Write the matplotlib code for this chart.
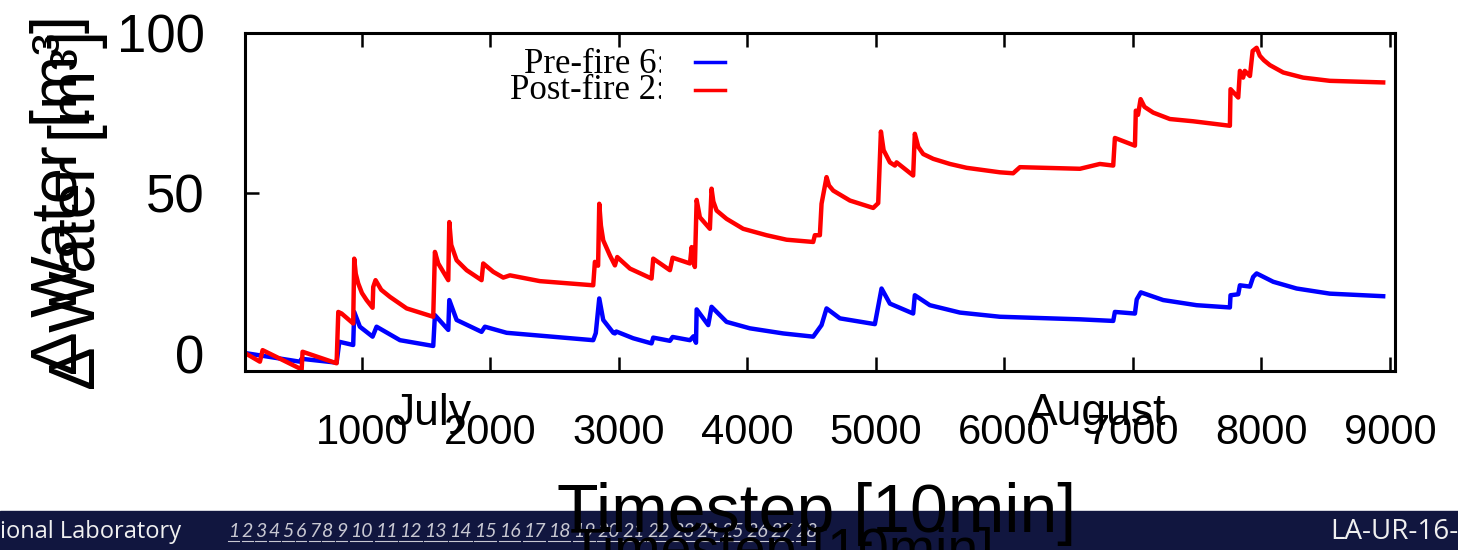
import matplotlib
matplotlib.use("Agg")
import matplotlib.pyplot as plt
from matplotlib.patches import Rectangle
from matplotlib.transforms import Bbox, blended_transform_factory

# post-fire (red) series, timestep vs delta water
post_x = [90, 206, 227, 531, 538, 803, 816, 842, 932, 940, 952, 971, 1000, 1036, 1083, 1088,
          1106, 1150, 1218, 1348, 1555, 1568, 1594, 1672, 1680, 1695, 1737, 1815, 1931, 1944,
          2022, 2100, 2152, 2385, 2800, 2813, 2838, 2847, 2860, 2878, 2930, 2969, 2987,
          3086, 3254, 3267, 3397, 3418, 3553, 3566, 3591, 3605, 3630, 3708, 3721,
          3735, 3760, 3838, 3967, 4149, 4305, 4512, 4525, 4564, 4577, 4616, 4635, 4668, 4798,
          4979, 5018, 5039, 5060, 5109, 5148, 5161, 5290, 5303, 5330, 5368, 5446, 5576, 5706,
          5965, 6068, 6121, 6588, 6743, 6847, 6860, 7016, 7023, 7040, 7060, 7090, 7158,
          7288, 7469, 7755, 7760, 7820, 7833, 7858, 7871, 7911, 7932, 7963, 7988,
          8020, 8066, 8170, 8325, 8533, 8948]
post_y = [0.3, -2.4, 1.2, -4.8, 0.7, -2.9, 13.1, 12.6, 9.5, 29.7, 25.0, 22.0, 19.0, 16.8, 14.4, 20.9,
          23.0, 20.0, 17.8, 14.2, 11.6, 31.8, 28.2, 23.0, 41.1, 34.0, 29.2, 26.1, 23.0, 28.2,
          25.6, 23.8, 24.5, 22.7, 21.4, 28.7, 27.5, 46.8, 40.0, 35.4, 30.7, 27.6, 30.2,
          26.6, 23.5, 29.7, 26.1, 30.0, 28.2, 33.3, 27.1, 48.0, 42.6, 39.0, 51.5,
          47.5, 44.7, 42.1, 39.0, 37.0, 35.6, 34.9, 37.0, 37.0, 46.8, 55.1, 52.5, 50.9, 47.8,
          45.5, 47.0, 69.3, 63.5, 59.7, 58.7, 59.7, 55.6, 68.6, 64.5, 62.3, 60.8, 59.2, 58.0,
          56.6, 56.3, 58.2, 57.7, 59.2, 58.7, 67.3, 64.9, 75.8, 74.5, 79.4, 77.0, 75.2,
          73.2, 72.5, 71.1, 82.5, 79.9, 88.2, 86.1, 88.2, 86.6, 94.4, 95.4, 92.9,
          91.5, 90.0, 87.7, 86.1, 85.1, 84.6]

# pre-fire (blue) series
pre_x = [90, 517, 530, 803, 824, 932, 940, 984, 1083, 1114, 1296, 1555, 1568, 1672,
         1680, 1737, 1931, 1957, 2126, 2800, 2820, 2847, 2878, 2956, 2969, 2980,
         3111, 3254, 3267, 3397, 3418, 3553, 3580, 3600, 3605, 3695, 3721, 3838,
         4019, 4279, 4512, 4577, 4616, 4720, 4992, 5044, 5109, 5290, 5303, 5420,
         5654, 5965, 6121, 6588, 6847, 6860, 7016, 7030, 7062, 7236, 7496, 7755,
         7760, 7820, 7833, 7911, 7936, 7963, 8092, 8274, 8533, 8948]
pre_y = [0.3, -2.4, -1.5, -2.7, 3.8, 2.8, 13.1, 8.5, 5.4, 8.5, 4.3, 2.5, 12.1, 7.5,
         16.8, 10.6, 6.9, 8.5, 6.6, 4.3, 6.5, 17.3, 10.6, 6.6, 6.4, 7.0,
         4.9, 3.3, 5.1, 4.1, 5.3, 4.3, 5.5, 3.5, 13.9, 9.0, 14.7, 10.0,
         8.0, 6.4, 5.4, 9.0, 14.2, 11.1, 9.3, 20.4, 15.7, 12.6, 18.3, 15.2,
         12.9, 11.6, 11.4, 10.8, 10.3, 13.1, 12.6, 17.0, 19.2, 16.8, 15.2, 14.5,
         18.3, 18.6, 21.4, 21.0, 24.0, 25.1, 22.5, 20.4, 18.8, 18.0]

xticks = [1000, 2000, 3000, 4000, 5000, 6000, 7000, 8000, 9000]
yticks = [0, 50, 100]
months = ["July", "August"]
month_x = [1545, 6720]
legend_labels = ["Pre-fire 6:", "Post-fire 2:"]
slide_numbers = [str(i) for i in range(1, 29)]

W, H = 1458, 550
fig = plt.figure(figsize=(W / 100, H / 100), dpi=100)
sans = "Liberation Sans"

ax = fig.add_axes([245 / W, 1 - 371 / H, 1150 / W, 338 / H])
ax.plot(pre_x, pre_y, color="#0000ff", lw=3.2)
ax.plot(post_x, post_y, color="#ff0000", lw=3.2)
ax.set_xlim(90, 9040)
ax.set_ylim(-5.3, 99.7)
ax.set_xticks(xticks)
ax.set_yticks(yticks)
for s in ax.spines.values():
    s.set_linewidth(2.2)
ax.tick_params(axis="x", direction="in", top=True, length=10, width=1.8, pad=30)
ax.tick_params(axis="y", direction="in", right=False, length=10, width=1.8, pad=29)
for lab in ax.get_xticklabels():
    lab.set_fontsize(30)
    lab.set_fontfamily(sans)
for lab in ax.get_yticklabels():
    lab.set_fontsize(38)
    lab.set_fontfamily(sans)

trans = blended_transform_factory(ax.transData, ax.transAxes)
for m, mx in zip(months, month_x):
    ax.text(mx, -0.16, m, transform=trans, ha="center", va="baseline",
            fontsize=32, family=sans, clip_on=False)

# legend, gnuplot style: text right aligned, sample to the right
for i, (lab, col) in enumerate(zip(legend_labels, ["#0000ff", "#ff0000"])):
    yb = 1 - (73 + 26 * i) / H
    t = fig.text(666 / W, yb, lab, ha="right", va="baseline", fontsize=25,
                 family="Liberation Serif")
    t.set_clip_box(Bbox.from_extents(0, 0, 661, H))
    t.set_clip_on(True)
    yl = 1 - (61.5 + 28 * i) / H
    fig.add_artist(plt.Line2D([695 / W, 725 / W], [yl, yl], color=col, lw=2.5))

# doubled axis labels
fig.text(60 / W, 1 - 195 / H, "Δ Water [m³]", rotation=90, ha="center", va="center",
         fontsize=47, family=sans)
fig.text(78 / W, 1 - 210 / H, "Δ Water [m³]", rotation=90, ha="center", va="center",
         fontsize=47, family=sans)

# slide footer
fig.add_artist(Rectangle((0, 0), 1, 39 / H, transform=fig.transFigure,
                         color="#11163f", zorder=1))
fig.text(0, 1 - 538 / H, "ional Laboratory", ha="left", va="baseline",
         fontsize=17, family="Open Sans", color="#f0f0f0", zorder=2)
fig.text(1330 / W, 1 - 539 / H, "LA-UR-16-", ha="left", va="baseline",
         fontsize=20, family="Open Sans", color="#f0f0f0", zorder=2)

fig.canvas.draw()
r = fig.canvas.get_renderer()
nums = []
for n in slide_numbers:
    t = fig.text(0, 1 - 537 / H, n, ha="left", va="baseline", fontsize=14,
                 family="Lato", style="italic", color="#c8c8d2", zorder=2)
    nums.append(t)
widths = [t.get_window_extent(r).width for t in nums]
gap = (590 - sum(widths)) / (len(nums) - 1)
x = 228
for t, w in zip(nums, widths):
    t.set_x(x / W)
    fig.add_artist(plt.Line2D([x / W, (x + w) / W], [1 - 541 / H] * 2,
                              color="#c8c8d2", lw=0.8, zorder=2))
    x += w + gap

fig.text(817 / W, 1 - 532 / H, "Timestep [10min]", ha="center", va="baseline",
         fontsize=49, family=sans, zorder=3)
fig.text(782 / W, 1 - 567 / H, "Timestep [10min]", ha="center", va="baseline",
         fontsize=40, family=sans, zorder=3)

fig.savefig("out.png", dpi=100)
